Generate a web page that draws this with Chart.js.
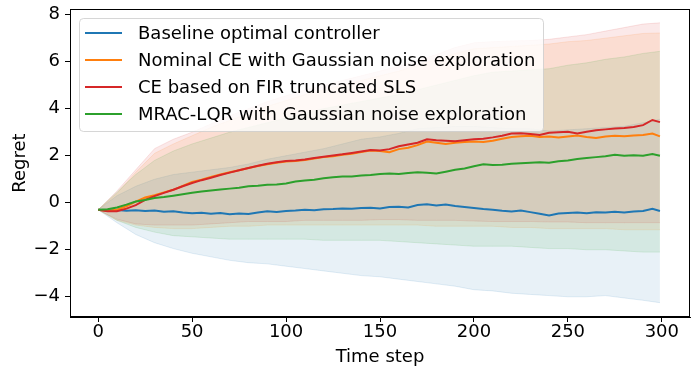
<!DOCTYPE html>
<html><head><meta charset="utf-8">
<script src="https://cdn.jsdelivr.net/npm/chart.js@4.4.1/dist/chart.umd.min.js"></script>
<style>html,body{margin:0;padding:0;background:#fff}#wrap{width:698px;height:376px}</style>
</head><body><div id="wrap"><canvas id="c" width="698" height="376"></canvas></div>
<script>
const seriesNames = ["Baseline optimal controller", "Nominal CE with Gaussian noise exploration", "CE based on FIR truncated SLS", "MRAC-LQR with Gaussian noise exploration"];
const xTicks = [0, 50, 100, 150, 200, 250, 300];
const yTicks = [-4, -2, 0, 2, 4, 6, 8];
const steps = [0,5,10,15,20,25,30,35,40,45,50,55,60,65,70,75,80,85,90,95,100,105,110,115,120,125,130,135,140,145,150,155,160,165,170,175,180,185,190,195,200,205,210,215,220,225,230,235,240,245,250,255,260,265,270,275,280,285,290,295,299];
const bandSteps = [0,10,20,30,40,50,60,70,80,90,100,110,120,130,140,150,160,170,180,190,200,210,220,230,240,250,260,270,280,290,299];

const baselineMean = [-0.30,-0.33,-0.31,-0.34,-0.32,-0.35,-0.33,-0.38,-0.36,-0.42,-0.45,-0.43,-0.47,-0.44,-0.49,-0.46,-0.48,-0.42,-0.36,-0.39,-0.35,-0.33,-0.30,-0.32,-0.28,-0.27,-0.25,-0.26,-0.22,-0.21,-0.24,-0.18,-0.17,-0.20,-0.10,-0.06,-0.12,-0.08,-0.14,-0.18,-0.22,-0.27,-0.30,-0.34,-0.37,-0.33,-0.40,-0.47,-0.54,-0.46,-0.44,-0.42,-0.45,-0.40,-0.42,-0.38,-0.41,-0.37,-0.35,-0.26,-0.35];
const nominalMean = [-0.30,-0.34,-0.30,-0.15,0.05,0.22,0.32,0.44,0.55,0.72,0.88,0.98,1.10,1.20,1.30,1.38,1.48,1.56,1.64,1.70,1.75,1.78,1.82,1.88,1.94,1.98,2.04,2.08,2.16,2.22,2.20,2.15,2.28,2.34,2.45,2.60,2.55,2.50,2.55,2.58,2.60,2.58,2.64,2.72,2.80,2.83,2.85,2.80,2.82,2.78,2.82,2.86,2.80,2.75,2.82,2.85,2.83,2.86,2.88,2.94,2.82];
const firMean = [-0.30,-0.36,-0.36,-0.25,-0.10,0.12,0.28,0.42,0.55,0.70,0.84,0.96,1.06,1.18,1.28,1.38,1.48,1.57,1.66,1.72,1.77,1.80,1.84,1.90,1.96,2.01,2.06,2.12,2.18,2.24,2.22,2.28,2.40,2.48,2.55,2.70,2.66,2.64,2.62,2.66,2.70,2.72,2.78,2.85,2.94,2.96,2.92,2.88,2.98,3.00,3.02,2.95,3.02,3.08,3.12,3.16,3.18,3.22,3.30,3.52,3.43];
const mracMean = [-0.30,-0.28,-0.20,-0.08,0.05,0.12,0.20,0.24,0.30,0.36,0.42,0.48,0.52,0.56,0.60,0.64,0.70,0.72,0.76,0.78,0.82,0.90,0.95,0.98,1.04,1.08,1.12,1.12,1.16,1.18,1.22,1.24,1.22,1.26,1.30,1.28,1.24,1.32,1.40,1.46,1.55,1.64,1.60,1.62,1.66,1.68,1.70,1.72,1.70,1.76,1.80,1.86,1.90,1.94,1.98,2.04,2.00,2.02,2.00,2.07,2.00];

const baselineLower = [-0.30,-0.85,-1.35,-1.70,-1.95,-2.15,-2.30,-2.45,-2.55,-2.60,-2.70,-2.80,-2.90,-3.00,-3.10,-3.15,-3.25,-3.35,-3.45,-3.55,-3.70,-3.75,-3.85,-3.90,-3.95,-4.00,-4.00,-3.95,-4.05,-4.15,-4.25];
const baselineUpper = [-0.30,0.30,0.70,1.00,1.20,1.30,1.40,1.50,1.65,1.85,2.00,2.15,2.30,2.50,2.70,2.80,2.95,3.15,3.20,3.25,3.25,3.20,3.15,3.15,3.05,3.10,3.15,3.20,3.25,3.40,3.55];
const nominalLower = [-0.30,-0.75,-0.95,-1.05,-1.10,-1.10,-1.05,-1.00,-1.00,-0.95,-0.95,-0.95,-0.95,-0.95,-0.95,-0.95,-0.95,-0.95,-1.00,-1.00,-1.00,-1.00,-1.05,-1.05,-1.10,-1.10,-1.10,-1.10,-1.15,-1.15,-1.15];
const nominalUpper = [-0.30,0.40,1.30,2.10,2.50,2.85,3.20,3.50,3.80,4.10,4.35,4.60,4.80,5.00,5.20,5.40,5.60,5.85,6.10,6.35,6.55,6.60,6.65,6.70,6.75,6.85,6.90,7.00,7.10,7.20,7.22];
const firLower = [-0.30,-0.70,-0.90,-0.95,-0.95,-0.95,-0.90,-0.85,-0.80,-0.80,-0.80,-0.75,-0.75,-0.75,-0.75,-0.72,-0.72,-0.75,-0.75,-0.75,-0.78,-0.80,-0.80,-0.80,-0.82,-0.82,-0.85,-0.85,-0.85,-0.85,-0.85];
const firUpper = [-0.30,0.50,1.40,2.30,2.70,3.00,3.35,3.70,4.00,4.30,4.55,4.80,5.00,5.20,5.40,5.60,5.80,6.05,6.30,6.60,6.80,6.85,6.88,6.90,6.95,7.05,7.15,7.30,7.45,7.60,7.65];
const mracLower = [-0.30,-0.75,-1.05,-1.25,-1.40,-1.45,-1.50,-1.55,-1.55,-1.55,-1.55,-1.55,-1.60,-1.60,-1.60,-1.60,-1.65,-1.70,-1.75,-1.80,-1.85,-1.85,-1.85,-1.90,-1.95,-1.95,-2.00,-2.00,-2.05,-2.10,-2.10];
const mracUpper = [-0.30,0.45,1.20,1.80,2.20,2.50,2.75,3.00,3.20,3.40,3.60,3.80,4.00,4.15,4.30,4.45,4.60,4.80,5.00,5.20,5.40,5.55,5.60,5.65,5.70,5.85,5.95,6.10,6.20,6.35,6.44];

const colors = [[31,119,180],[255,127,14],[214,39,40],[44,160,44]];
const means = [baselineMean, nominalMean, firMean, mracMean];
const lowers = [baselineLower, nominalLower, firLower, mracLower];
const uppers = [baselineUpper, nominalUpper, firUpper, mracUpper];

const FONT_FAMILY = '"DejaVu Sans", sans-serif';
const FS = 18;
const rgba = (c, a) => `rgba(${c[0]},${c[1]},${c[2]},${a})`;
const pts = (xs, ys) => xs.map((x, i) => ({x: x, y: ys[i]}));

const datasets = [];
seriesNames.forEach((name, i) => {
  datasets.push({label: name, data: pts(steps, means[i]), borderColor: rgba(colors[i], 1), borderWidth: 2, pointRadius: 0, fill: false, tension: 0, order: 3 - i});
});
seriesNames.forEach((name, i) => {
  const lowIdx = datasets.length;
  datasets.push({label: '_lo' + i, data: pts(bandSteps, lowers[i]), borderColor: rgba(colors[i], 0.12), borderWidth: 1, pointRadius: 0, fill: false, tension: 0, order: 20 - 2 * i});
  datasets.push({label: '_hi' + i, data: pts(bandSteps, uppers[i]), borderColor: rgba(colors[i], 0.12), borderWidth: 1, pointRadius: 0, fill: lowIdx, backgroundColor: rgba(colors[i], 0.1), tension: 0, order: 19 - 2 * i});
});

const frameAndLegend = {
  id: 'frameAndLegend',
  afterDraw(chart) {
    const ctx = chart.ctx, a = chart.chartArea;
    ctx.save();
    ctx.strokeStyle = '#000'; ctx.lineWidth = 1;
    ctx.strokeRect(Math.round(a.left) + 0.5, Math.round(a.top) + 0.5, Math.round(a.right - a.left) - 1, Math.round(a.bottom - a.top) - 1);
    const bx = 79.5, by = 18.5, bw = 464, bh = 113, r = 4;
    ctx.beginPath();
    ctx.moveTo(bx + r, by); ctx.lineTo(bx + bw - r, by); ctx.arcTo(bx + bw, by, bx + bw, by + r, r);
    ctx.lineTo(bx + bw, by + bh - r); ctx.arcTo(bx + bw, by + bh, bx + bw - r, by + bh, r);
    ctx.lineTo(bx + r, by + bh); ctx.arcTo(bx, by + bh, bx, by + bh - r, r);
    ctx.lineTo(bx, by + r); ctx.arcTo(bx, by, bx + r, by, r); ctx.closePath();
    ctx.fillStyle = 'rgba(255,255,255,0.8)'; ctx.fill();
    ctx.strokeStyle = 'rgba(204,204,204,0.8)'; ctx.stroke();
    ctx.font = FS + 'px ' + FONT_FAMILY;
    ctx.textBaseline = 'middle'; ctx.textAlign = 'left';
    seriesNames.forEach((name, i) => {
      const y = 33 + i * 27;
      ctx.strokeStyle = rgba(colors[i], 1); ctx.lineWidth = 2;
      ctx.beginPath(); ctx.moveTo(85, y); ctx.lineTo(122, y); ctx.stroke();
      ctx.fillStyle = '#000';
      ctx.fillText(name, 138, y + 1);
    });
    ctx.restore();
  }
};

const tickFont = {family: FONT_FAMILY, size: FS};
new Chart(document.getElementById('c'), {
  type: 'line',
  data: {datasets: datasets},
  plugins: [frameAndLegend],
  options: {
    responsive: false, animation: false, events: [],
    layout: {padding: {left: 10, right: 8, top: 9, bottom: 8}},
    plugins: {legend: {display: false}, tooltip: {enabled: false}, filler: {propagate: false}},
    scales: {
      x: {
        type: 'linear', min: -15, max: 315,
        afterBuildTicks: s => { s.ticks = xTicks.map(v => ({value: v})); },
        afterFit: s => { s.height = 51; s.paddingLeft = 0; s.paddingRight = 0; },
        ticks: {font: tickFont, color: '#000', padding: 0, maxRotation: 0, autoSkip: false, callback: v => String(v)},
        grid: {drawOnChartArea: false, drawTicks: true, tickLength: 5, color: '#000'},
        border: {display: true, color: '#000'},
        title: {display: true, text: 'Time step', font: tickFont, color: '#000', padding: {top: 0, bottom: 0}}
      },
      y: {
        type: 'linear', min: -4.86, max: 8.24,
        afterBuildTicks: s => { s.ticks = yTicks.map(v => ({value: v})); },
        afterFit: s => { s.width = 60; s.paddingTop = 0; s.paddingBottom = 0; },
        ticks: {font: tickFont, color: '#000', padding: 5, autoSkip: false, callback: v => String(v).replace('-', '\u2212')},
        grid: {drawOnChartArea: false, drawTicks: true, tickLength: 5, color: '#000'},
        border: {display: true, color: '#000'},
        title: {display: true, text: 'Regret', font: tickFont, color: '#000', padding: {top: 0, bottom: 0}}
      }
    }
  }
});
</script></body></html>
